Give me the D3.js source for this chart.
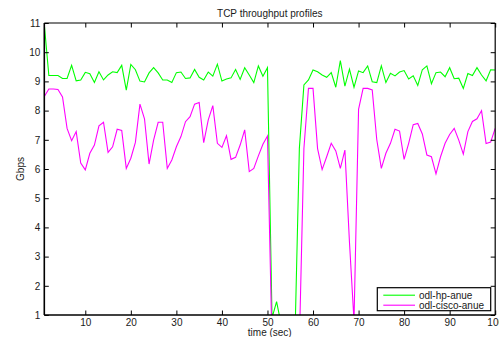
<!DOCTYPE html>
<html>
<head>
<meta charset="utf-8">
<script src="https://cdn.jsdelivr.net/npm/d3@7"></script>
<style>
  html, body { margin: 0; padding: 0; background: #fff; }
  svg { display: block; }
  text { font-family: "Liberation Sans", Arial, Helvetica, sans-serif; fill: #1a1a1a; }
</style>
</head>
<body>
<script>
// Sample times (seconds)
const timeSec = d3.range(1, 101);

// Throughput, Gbps
const hpAnue = [
  10.95, 9.2, 9.2, 9.2, 9.1, 9.1, 9.55, 9.02, 9.05, 9.31,
  9.26, 8.96, 9.33, 9.05, 9.22, 9.33, 9.3, 9.55, 8.7, 9.58,
  9.4, 9.01, 8.98, 9.29, 9.47, 9.29, 9.05, 9.05, 8.96, 9.3,
  9.32, 9.1, 9.12, 9.41, 9.14, 9.05, 9.32, 9.18, 9.59, 9.01,
  9.08, 9.12, 9.41, 9.07, 9.47, 9.22, 8.96, 9.53, 9.18, 9.47,
  0.9, 1.46, 0.68, 0, 0, 0, 6.7, 8.88, 9.05, 9.39,
  9.33, 9.22, 9.14, 9.3, 8.8, 9.71, 8.84, 9.42, 8.8, 9.36,
  9.3, 9.53, 8.99, 8.96, 9.53, 8.96, 9.28, 9.19, 9.32, 9.37,
  9.08, 9.19, 8.86, 9.4, 9.53, 8.92, 9.3, 9.32, 9.16, 9.47,
  9.09, 9.11, 8.76, 9.27, 9.2, 9.47, 9.22, 9.02, 9.4, 9.39
];
const ciscoAnue = [
  8.48, 8.74, 8.74, 8.72, 8.47, 7.39, 6.97, 7.28, 6.2, 5.97,
  6.54, 6.82, 7.48, 7.6, 6.57, 6.76, 7.36, 7.32, 6.02, 6.37,
  6.91, 8.22, 7.72, 6.17, 6.99, 7.6, 7.6, 6.02, 6.31, 6.76,
  7.11, 7.62, 7.79, 8.22, 8.28, 6.9, 7.68, 8.17, 6.88, 6.74,
  7.14, 6.33, 6.4, 6.82, 7.34, 5.91, 6.02, 6.45, 6.85, 7.13,
  0, 0, 0, 0, 0, 0, 0, 6.7, 8.76, 8.76,
  6.7, 5.98, 6.42, 6.88, 6.62, 6.02, 6.65, 3.5, 0.8, 8.04,
  8.76, 8.76, 8.71, 7.0, 6.02, 6.54, 6.88, 7.36, 7.3, 6.33,
  6.88, 7.52, 7.56, 7.2, 6.48, 6.42, 5.83, 6.42, 6.88, 7.18,
  7.39, 6.99, 6.51, 7.28, 7.63, 7.72, 8.0, 6.87, 6.92, 7.39
];

const seriesNames = ["odl-hp-anue", "odl-cisco-anue"];
const seriesColors = ["#00ff00", "#ff00ff"];
const xTicks = [10, 20, 30, 40, 50, 60, 70, 80, 90, 100];
const yTicks = [1, 2, 3, 4, 5, 6, 7, 8, 9, 10, 11];

const W = 499, H = 337;
const plotL = 44.3, plotR = 495.2, plotT = 23, plotB = 315;

const svg = d3.select("body").append("svg")
  .attr("width", W).attr("height", H);

const x = d3.scaleLinear().domain([1, 100]).range([plotL, plotR]);
const y = d3.scaleLinear().domain([1, 11]).range([plotB, plotT]);

svg.append("defs").append("clipPath").attr("id", "plotClip")
  .append("rect").attr("x", plotL).attr("y", plotT)
  .attr("width", plotR - plotL).attr("height", plotB - plotT);

// Plot series
const line = d3.line().x((d, i) => x(timeSec[i])).y(d => y(d));
const plot = svg.append("g").attr("clip-path", "url(#plotClip)");
[hpAnue, ciscoAnue].forEach((vals, k) => {
  plot.append("path").datum(vals)
    .attr("d", line)
    .attr("fill", "none")
    .attr("stroke", seriesColors[k])
    .attr("stroke-width", 1.1)
    .attr("stroke-linejoin", "miter");
});

// Axes with inward ticks on all four sides
const tickLen = 4.5;
const axFont = "10px";
const gB = svg.append("g").attr("transform", `translate(0,${plotB})`)
  .call(d3.axisBottom(x).tickValues(xTicks).tickSizeInner(-tickLen).tickSizeOuter(0).tickPadding(3.5));
const gT = svg.append("g").attr("transform", `translate(0,${plotT})`)
  .call(d3.axisTop(x).tickValues(xTicks).tickSizeInner(-tickLen).tickSizeOuter(0).tickFormat(""));
const gL = svg.append("g").attr("transform", `translate(${plotL},0)`)
  .call(d3.axisLeft(y).tickValues(yTicks).tickSizeInner(-tickLen).tickSizeOuter(0).tickPadding(4));
const gR = svg.append("g").attr("transform", `translate(${plotR},0)`)
  .call(d3.axisRight(y).tickValues(yTicks).tickSizeInner(-tickLen).tickSizeOuter(0).tickFormat(""));

[gB, gT, gL, gR].forEach(g => {
  g.select(".domain").remove();
  g.selectAll(".tick line").attr("stroke", "#000").attr("stroke-width", 1);
  g.selectAll(".tick text").style("font-size", axFont)
    .style("font-family", '"Liberation Sans", Arial, sans-serif').attr("fill", "#1a1a1a");
});

// Box
svg.append("line").attr("x1", plotL).attr("x2", plotR).attr("y1", plotT).attr("y2", plotT)
  .attr("stroke", "#000").attr("stroke-width", 1.2);
svg.append("line").attr("x1", plotR).attr("x2", plotR).attr("y1", plotT).attr("y2", plotB)
  .attr("stroke", "#000").attr("stroke-width", 1.2);
svg.append("line").attr("x1", plotL).attr("x2", plotR).attr("y1", plotB).attr("y2", plotB)
  .attr("stroke", "#000").attr("stroke-width", 1.6);
svg.append("line").attr("x1", plotL).attr("x2", plotL).attr("y1", plotT).attr("y2", plotB)
  .attr("stroke", "#000").attr("stroke-width", 1.6);

// Title and axis labels
svg.append("text").attr("x", (plotL + plotR) / 2).attr("y", 17)
  .attr("text-anchor", "middle").style("font-size", "10px")
  .text("TCP throughput profiles");
svg.append("text").attr("x", (plotL + plotR) / 2).attr("y", 336)
  .attr("text-anchor", "middle").style("font-size", "10px")
  .text("time (sec)");
svg.append("text")
  .attr("transform", `translate(23.5,${(plotT + plotB) / 2}) rotate(-90)`)
  .attr("text-anchor", "middle").style("font-size", "10px")
  .text("Gbps");

// Legend
const lg = svg.append("g");
lg.append("rect").attr("x", 377.3).attr("y", 287.7)
  .attr("width", 113.4).attr("height", 23)
  .attr("fill", "#fff").attr("stroke", "#000").attr("stroke-width", 1.2);
seriesNames.forEach((name, k) => {
  const ly = 295.2 + k * 10;
  lg.append("line").attr("x1", 383.3).attr("x2", 415).attr("y1", ly).attr("y2", ly)
    .attr("stroke", seriesColors[k]).attr("stroke-width", 1.1);
  lg.append("text").attr("x", 419).attr("y", ly + 3.5)
    .style("font-size", "10px").text(name);
});
</script>
</body>
</html>
